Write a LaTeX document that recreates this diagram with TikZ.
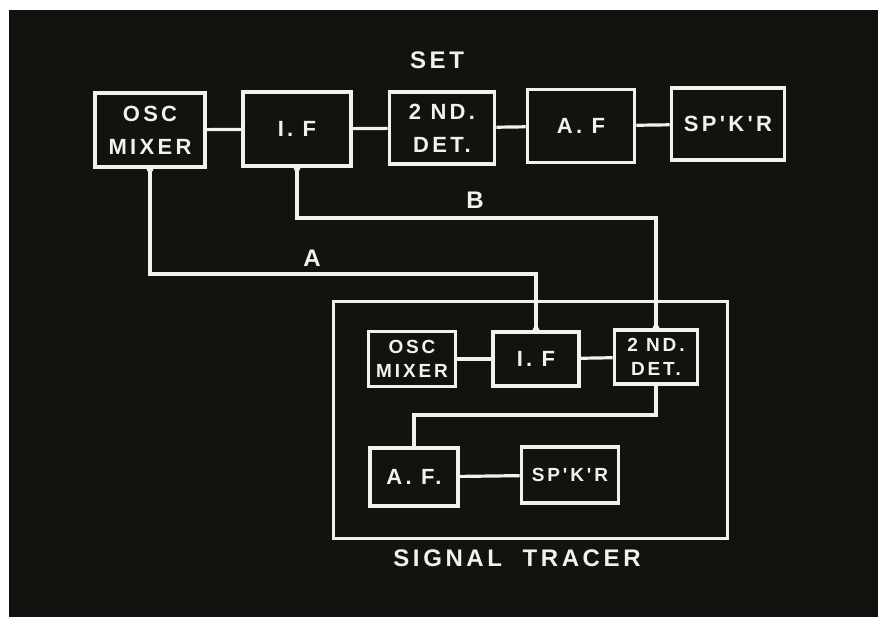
\documentclass[tikz,border=0pt]{standalone}
\usepackage{fontspec}
\newfontfamily\boardfont{Liberation Sans}[LetterSpace=15]
\usepackage{tikz}

\definecolor{board}{RGB}{17,19,15}
\definecolor{chalk}{RGB}{242,242,236}

\begin{document}
\begin{tikzpicture}[x=1pt, y=-1pt,
		blk/.style={draw=chalk, line width=3.8pt, inner sep=0pt, align=center, text=chalk},
		bigtxt/.style={font=\boardfont\bfseries\fontsize{22}{33}\selectfont},
		smalltxt/.style={font=\boardfont\bfseries\fontsize{19}{24}\selectfont},
		lbl/.style={text=chalk, font=\boardfont\bfseries\fontsize{24}{28}\selectfont},
		wire/.style={draw=chalk, line width=3.2pt}]
					% background
					\fill[white] (0,0) rectangle (883,619);
					\fill[board] (9,10) rectangle (878,617);
					
					% set
					\node[lbl] (set) at (437,60) {SET};
					\node[blk, bigtxt, minimum width=110, minimum height=74] (osc) at (150,130) {OSC\\MIXER};
					\node[blk, bigtxt, minimum width=108, minimum height=74] (if) at (297,129) {I. F};
					\node[blk, bigtxt, minimum width=105, minimum height=72] (det) at (442,128) {2 ND.\\DET.};
					\node[blk, bigtxt, minimum width=107, minimum height=73] (af) at (581,126) {A. F};
					\node[blk, bigtxt, minimum width=113, minimum height=72] (spkr) at (728,124) {SP'K'R};
					\draw[wire] (osc) -- (if);
					\draw[wire] (if) -- (det);
					\draw[wire] (det) -- (af);
					\draw[wire] (af) -- (spkr);
					
					% signal tracer
					\node[draw=chalk, line width=3pt, minimum width=394, minimum height=237] (tracer) at (530,419.5) {};
					\node[lbl] (tracername) at (517,558) {SIGNAL\ \ TRACER};
					\node[blk, smalltxt, minimum width=87, minimum height=55] (osc2) at (412,359) {OSC\\MIXER};
					\node[blk, bigtxt, minimum width=86, minimum height=54] (if2) at (536,359) {I. F};
					\node[blk, smalltxt, minimum width=83, minimum height=54] (det2) at (656,357) {2 ND.\\DET.};
					\node[blk, bigtxt, minimum width=88, minimum height=58] (af2) at (414,477) {A. F.};
					\node[blk, smalltxt, minimum width=97, minimum height=56] (spkr2) at (570,475) {SP'K'R};
					\draw[wire] (osc2) -- (if2);
					\draw[wire] (if2) -- (det2);
					\draw[wire] (det2.south) -- ++(0,29) -| (af2.north);
					\draw[wire] (af2) -- (spkr2);
					
					% test leads A and B
					\draw[wire] (osc.south) -- ++(0,105) -| (if2.north);
					\draw[wire] (if.south) -- ++(0,50) -| (det2.north);
					\node[lbl] (leadA) at (312,258) {A};
					\node[lbl] (leadB) at (475,200) {B};
					
					% junctions
					\fill[chalk] (osc.south) circle (3.5pt);
					\fill[chalk] (if.south) circle (3.5pt);
					\fill[chalk] (if2.north) circle (3.5pt);
					\fill[chalk] (det2.north) circle (3.5pt);
				\end{tikzpicture}
\end{document}
